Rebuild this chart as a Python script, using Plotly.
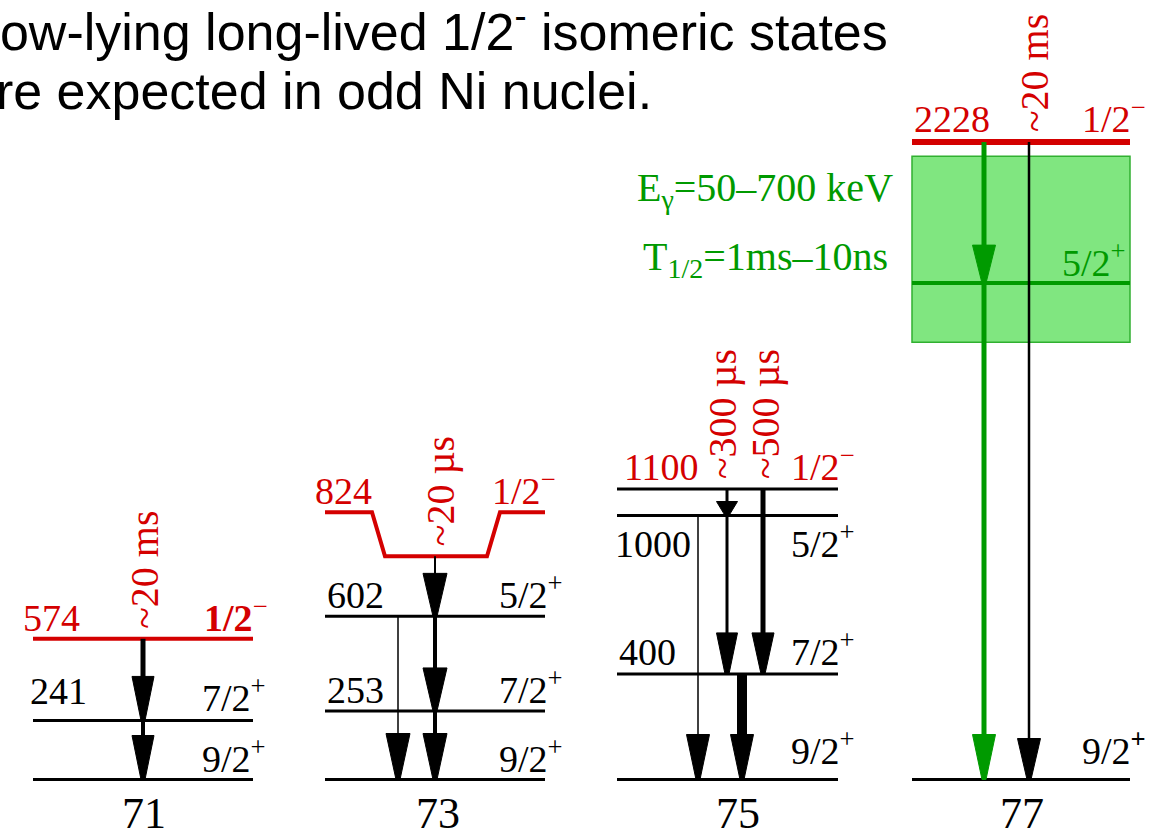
import plotly.graph_objects as go

# ------------------------------------------------------------------ data
masses = ["71", "73", "75", "77"]

# level energies in keV (bottom to top) and spin-parities
e71 = [0, 241, 574]
jp71 = ["9/2+", "7/2+", "1/2-"]
e73 = [0, 253, 602, 824]
jp73 = ["9/2+", "7/2+", "5/2+", "1/2-"]
e75 = [0, 400, 1000, 1100]
jp75 = ["9/2+", "7/2+", "5/2+", "1/2-"]
e77 = [0, 1735, 2228]          # 5/2+ energy unknown, placed inside the search window
jp77 = ["9/2+", "5/2+", "1/2-"]
known77 = [True, False, True]

# isomer half-lives (one entry per decay branch drawn with a label)
t71 = ["~20 ms"]
t73 = ["~20 µs"]
t75 = ["~300 µs", "~500 µs"]
t77 = ["~20 ms"]

# gamma transitions (from keV, to keV)
g71 = [(574, 241), (241, 0)]
g73 = [(824, 602), (602, 253), (253, 0), (602, 0)]
g75 = [(1100, 1000), (1000, 400), (1100, 400), (1000, 0), (400, 0)]
g77 = [(2228, 1735), (1735, 0), (2228, 0)]

# expected window for the 77Ni isomer decay
egamma_range = [50, 700]       # keV
thalf_range = ["1ms", "10ns"]

title_lines = ["Low-lying long-lived 1/2<sup>-</sup> isomeric states",
               "are expected in odd Ni nuclei."]

# ------------------------------------------------------------------ style
W, H = 1152, 838
GROUND_PX = 779.5
RED = "#d40000"
BLACK = "#000000"
GREEN = "#009a00"
BOX_FILL = "#80e680"
BOX_LINE = "#30b030"
SERIF = "Liberation Serif"
SANS = "Liberation Sans"
LBL = 38          # level label size
COL_LBL = 44      # mass number size
TITLE = 52
title_base = [51, 110]         # baselines, px from top
title_shift = [-31, -35]       # first letter runs off the left edge

col_x0 = [33, 325, 617, 912]
col_x1 = [253, 545, 838, 1130]
col_scale = [0.2451, 0.271, 0.264, 0.2861]      # px per keV in each column
yaxes = ["y", "y2", "y3", "y4"]

levels = [e71, e73, e75, e77]
spins = [jp71, jp73, jp75, jp77]
known = [[True] * len(e71), [True] * len(e73), [True] * len(e75), known77]
halflives = [t71, t73, t75, t77]
gammas = [g71, g73, g75, g77]

# per level: line colour/width, left label (x, gap above line in px), right label (x, gap)
lvl_color = [[BLACK, BLACK, RED], [BLACK, BLACK, BLACK, RED],
             [BLACK, BLACK, BLACK, BLACK], [BLACK, GREEN, RED]]
lvl_width = [[3, 3, 4], [3, 3, 3, 4], [3, 3, 3, 3], [3, 4, 6]]
left_x = [[None, 28, 21], [None, 325, 325, 313], [None, 617, 613, 622], [None, None, 912]]
left_gap = [[0, 16, 7], [0, 7, 8, 51], [0, 8, -42, 8], [0, 0, 9]]
right_x = [[268, 268, 270], [565, 565, 565, 558], [857, 857, 857, 857], [1148, 1128, 1148]]
right_gap = [[7, 9, 7], [7, 7, 8, 51], [15, 8, -42, 8], [15, 6, 9]]
spin_color = [[BLACK, BLACK, RED], [BLACK, BLACK, BLACK, RED],
              [BLACK, BLACK, BLACK, RED], [BLACK, GREEN, RED]]
KINK_RISE = 44     # px, raised ends of the 73Ni isomer level

# per gamma: x position, line width, colour, head size (w, len) in px
g_x = [[143, 143], [435, 435, 435, 398], [727, 727, 763, 698, 742], [984, 984, 1029]]
g_w = [[5, 4], [2, 4, 4, 1.5], [3, 3, 5, 1.5, 10], [5, 5, 2.5]]
g_c = [[BLACK] * 2, [BLACK] * 4, [BLACK] * 5, [GREEN, GREEN, BLACK]]
g_head = [[(22, 44), (22, 44)],
          [(24, 43), (24, 43), (24, 46), (24, 46)],
          [(21, 14), (21, 41), (22, 41), (23, 45), (23, 45)],
          [(23, 38), (23, 45), (23, 41)]]
t_x = [[145], [440], [722, 765], [1034]]
T_GAP = 8
T_SIZE = 40
col_lbl_x = [143.5, 438, 738, 1022]


def kev(i, px):
    return px / col_scale[i]


def desc(size):
    return 0.216 * size + 1


def spin_text(jp, bold_sign=False, bold=False):
    sign = "+" if jp.endswith("+") else "−"
    core = jp[:-1]
    if bold:
        core = f"<b>{core}</b>"
    if bold_sign:
        sign = f"<b>{sign}</b>"
    return f"{core}<sup>{sign}</sup>"


fig = go.Figure()
shapes = []
annotations = []

# invisible anchors so every column axis exists
for i in range(4):
    fig.add_trace(go.Scatter(x=[col_x0[i]], y=[0], yaxis=yaxes[i], mode="markers",
                             marker=dict(opacity=0), hoverinfo="skip", showlegend=False))

# search window for the 77Ni isomer decay
e_top77 = e77[-1]
shapes.append(dict(type="rect", xref="x", yref=yaxes[3], x0=col_x0[3], x1=col_x1[3],
                   y0=e_top77 - egamma_range[1], y1=e_top77 - egamma_range[0],
                   fillcolor=BOX_FILL, line=dict(color=BOX_LINE, width=1.5), layer="above"))

# level lines
for i in range(4):
    for k, e in enumerate(levels[i]):
        if i == 1 and k == len(levels[i]) - 1:
            r = kev(i, KINK_RISE)
            path = (f"M {col_x0[i]},{e + r} L 372,{e + r} L 385,{e} L 487,{e} "
                    f"L 500,{e + r} L {col_x1[i]},{e + r}")
            shapes.append(dict(type="path", xref="x", yref=yaxes[i], path=path,
                               line=dict(color=lvl_color[i][k], width=lvl_width[i][k])))
        else:
            shapes.append(dict(type="line", xref="x", yref=yaxes[i], x0=col_x0[i], x1=col_x1[i],
                               y0=e, y1=e, line=dict(color=lvl_color[i][k], width=lvl_width[i][k])))

# gamma transitions with tapered heads
for i in range(4):
    for j, (ef, et) in enumerate(gammas[i]):
        x = g_x[i][j]
        hw, hlen = g_head[i][j]
        hl = kev(i, hlen)
        col = g_c[i][j]
        shapes.append(dict(type="line", xref="x", yref=yaxes[i], x0=x, x1=x, y0=ef, y1=et + hl * 0.5,
                           line=dict(color=col, width=g_w[i][j])))
        path = (f"M {x - hw / 2},{et + hl} L {x + hw / 2},{et + hl} "
                f"L {x + 2},{et} L {x - 2},{et} Z")
        shapes.append(dict(type="path", xref="x", yref=yaxes[i], path=path,
                           fillcolor=col, line=dict(color=col, width=1)))


def add_text(text, x, xanchor, yref, y, gap_px, size, color, family=SERIF, xref="x"):
    annotations.append(dict(text=text, x=x, xref=xref, xanchor=xanchor, y=y, yref=yref,
                            yanchor="bottom", yshift=gap_px - desc(size), showarrow=False,
                            font=dict(family=family, size=size, color=color)))


# level labels
for i in range(4):
    top = len(levels[i]) - 1
    for k, e in enumerate(levels[i]):
        if k > 0 and known[i][k] and left_x[i][k] is not None:
            add_text(str(e), left_x[i][k], "left", yaxes[i], e, left_gap[i][k], LBL,
                     RED if k == top else BLACK)
        bold = (i == 0 and k == top)
        bsign = (i == 3 and k == 0)
        add_text(spin_text(spins[i][k], bold_sign=bsign, bold=bold), right_x[i][k], "right",
                 yaxes[i], e, right_gap[i][k], LBL, spin_color[i][k])
    # isomer half-lives, vertical
    for j, t in enumerate(halflives[i]):
        annotations.append(dict(text=t, x=t_x[i][j], xref="x", xanchor="center",
                                y=levels[i][top], yref=yaxes[i], yanchor="bottom", yshift=T_GAP,
                                textangle=-90, showarrow=False,
                                font=dict(family=SERIF, size=T_SIZE, color=RED)))
    # mass number below the ground state
    add_text(masses[i], col_lbl_x[i], "center", yaxes[i], 0, -50, COL_LBL, BLACK)

# window annotation (green)
add_text(f"E<sub>γ</sub>={egamma_range[0]}–{egamma_range[1]} keV", 765, "center", "paper",
         1 - 207 / H, 0, 40, GREEN)
add_text(f"T<sub>1/2</sub>={thalf_range[0]}–{thalf_range[1]}", 765, "center", "paper",
         1 - 276 / H, 0, 40, GREEN)

# headline text
for line, base, dx in zip(title_lines, title_base, title_shift):
    annotations.append(dict(text=line, x=0, xref="paper", xanchor="left", xshift=dx,
                            y=1 - base / H, yref="paper", yanchor="bottom", yshift=-(0.212 * TITLE + 1),
                            showarrow=False, font=dict(family=SANS, size=TITLE, color=BLACK)))

layout_axes = {"xaxis": dict(range=[0, W], visible=False, fixedrange=True)}
for i in range(4):
    s = col_scale[i]
    ax = dict(range=[-(H - GROUND_PX) / s, GROUND_PX / s], visible=False, fixedrange=True, anchor="x")
    if i > 0:
        ax["overlaying"] = "y"
    layout_axes["yaxis" if i == 0 else f"yaxis{i + 1}"] = ax

fig.update_layout(width=W, height=H, margin=dict(l=0, r=0, t=0, b=0),
                  paper_bgcolor="white", plot_bgcolor="white", showlegend=False,
                  shapes=shapes, annotations=annotations, **layout_axes)

fig.write_html("out.html")
